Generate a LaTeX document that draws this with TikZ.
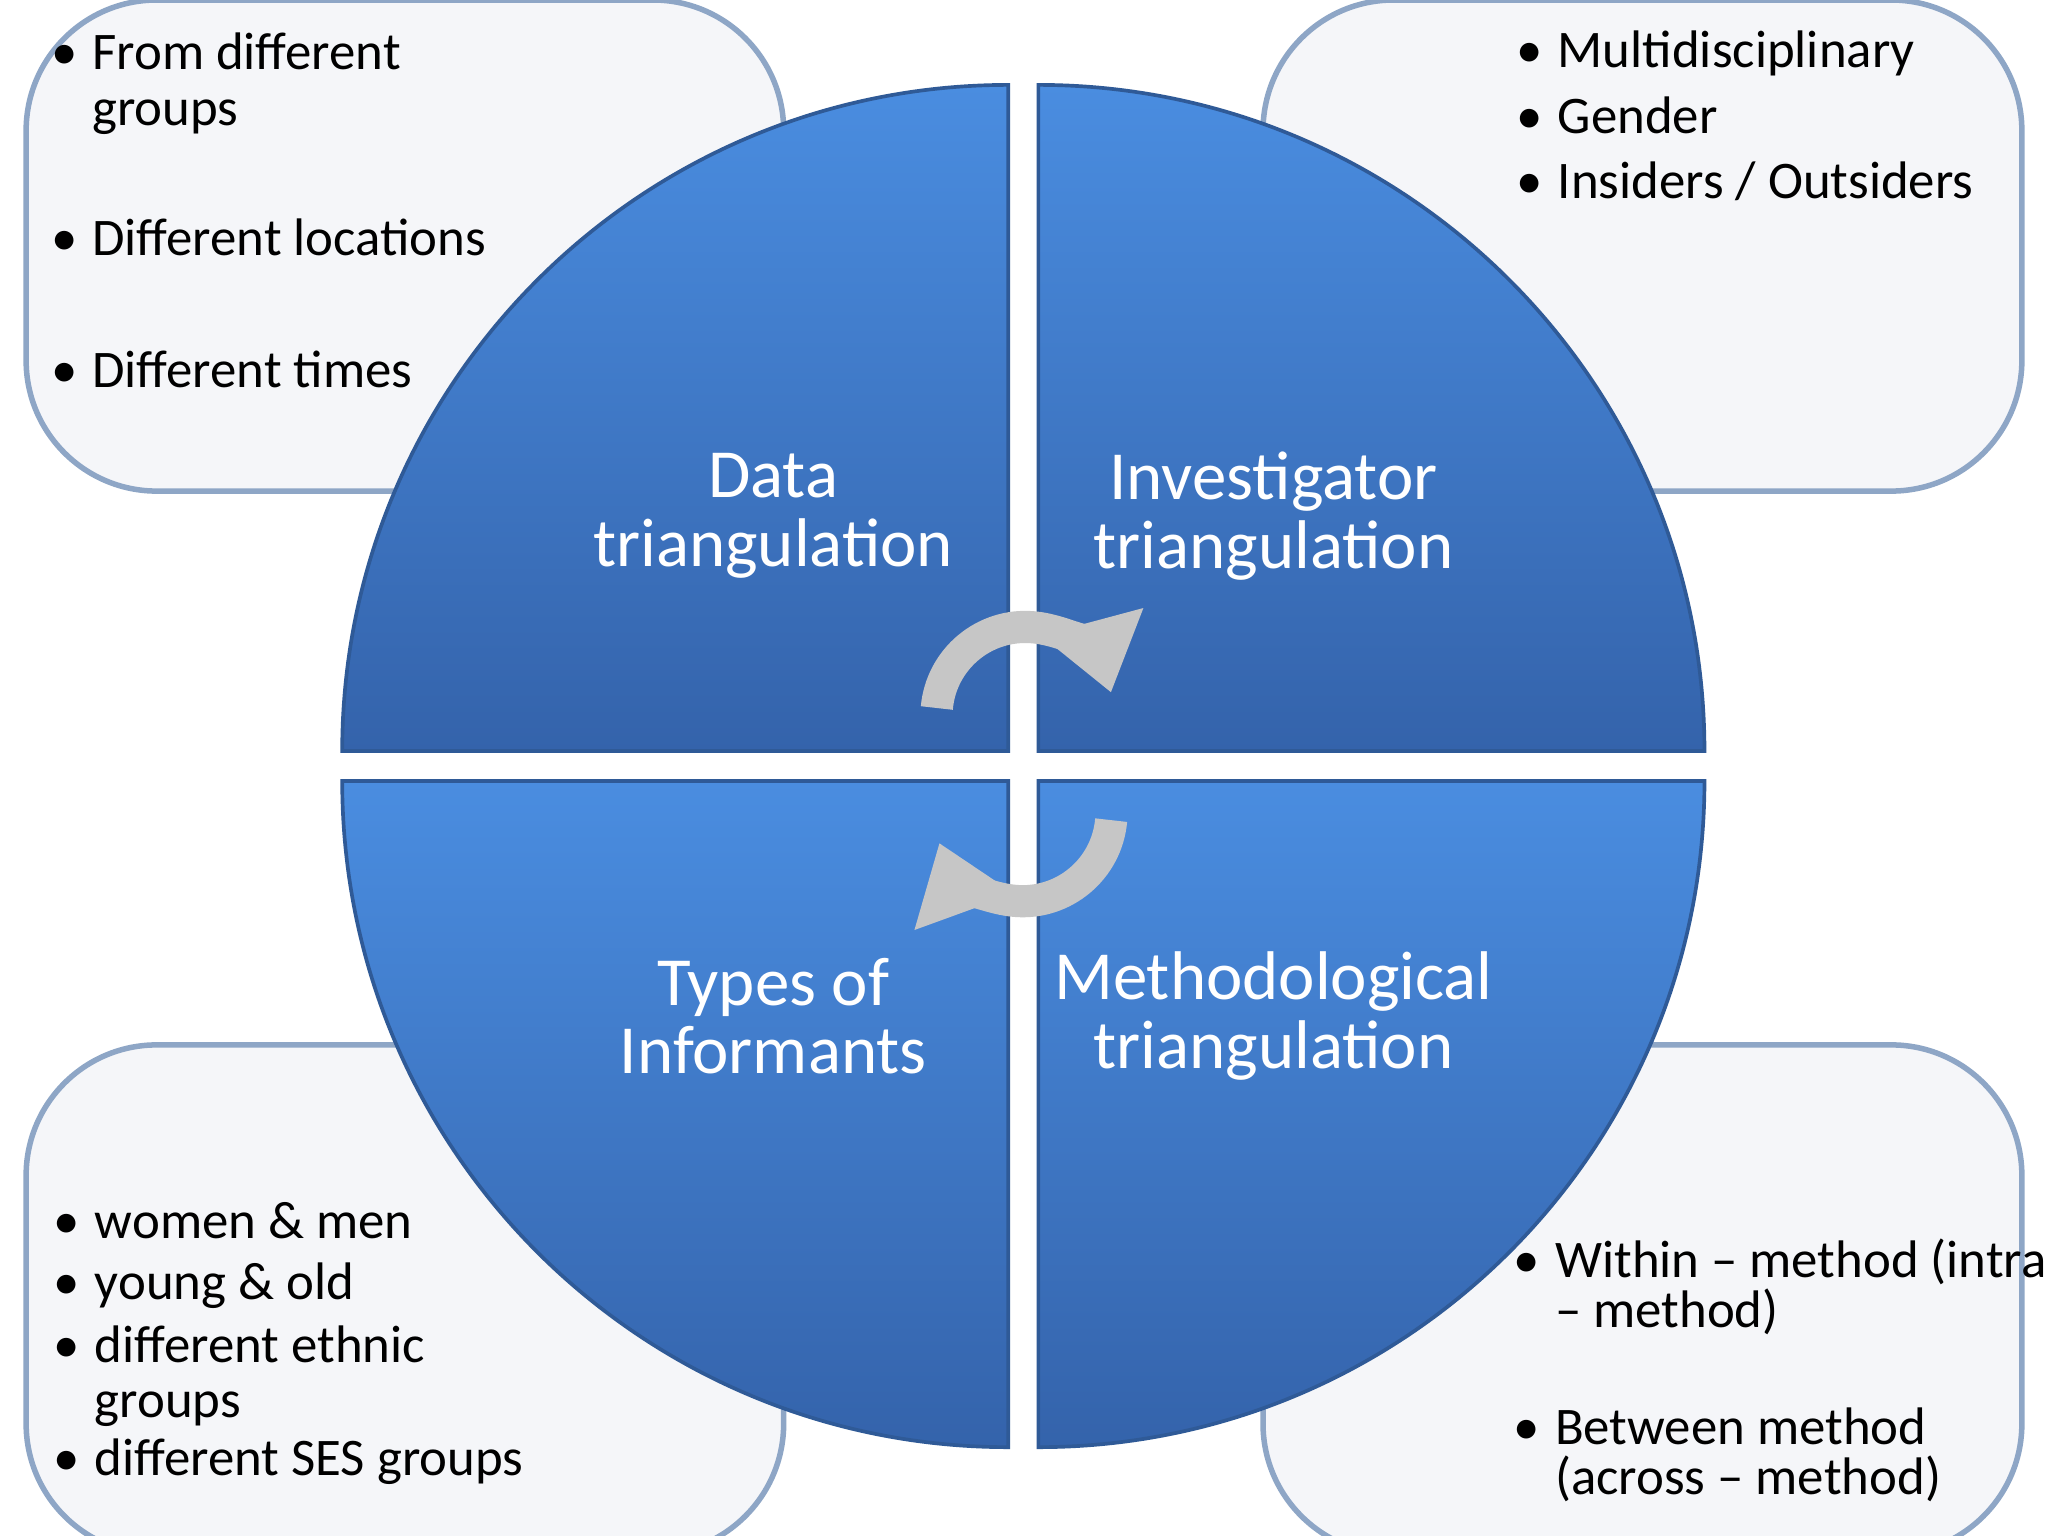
\documentclass[tikz,border=0pt]{standalone}
\usepackage{fontspec}
\setmainfont{Carlito}
\usetikzlibrary{arrows.meta}
\definecolor{boxfill}{HTML}{F5F6F9}
\definecolor{boxline}{HTML}{8EA6C6}
\definecolor{qtop}{HTML}{4A8DE0}
\definecolor{qbot}{HTML}{3463AB}
\definecolor{qline}{HTML}{2F5A97}
\tikzset{
  infobox/.style={draw=boxline, line width=1.2pt, fill=boxfill, rounded corners=1cm},
  quad/.style={draw=qline, line width=0.8pt, top color=qtop, bottom color=qbot},
  item/.style={anchor=base west, inner sep=0pt, font=\fontsize{11.5}{13}\selectfont},
  bul/.style={anchor=base east, inner sep=0pt, font=\fontsize{11.5}{13}\selectfont},
  qlabel/.style={text=white, align=center, font=\fontsize{15}{15}\selectfont},
  cyc/.style={line width=7pt, draw=gray!45, -{Triangle[length=16pt,width=22pt]}}
}
\begin{document}
\begin{tikzpicture}[x=0.01cm,y=0.01cm]
\useasboundingbox (0,0) rectangle (1568,-1176);
\fill[white] (0,0) rectangle (1568,-1176);
% boxes
\draw[infobox] (20,0) rectangle (600,-376);
\draw[infobox] (967,0) rectangle (1548,-376);
\draw[infobox] (20,-800) rectangle (600,-1190);
\draw[infobox] (967,-800) rectangle (1548,-1190);
% quadrants
\path[quad] (262,-575) arc[start angle=180,end angle=90,radius=510] -- (772,-575) -- cycle;
\path[quad] (795,-65) arc[start angle=90,end angle=0,radius=510] -- (795,-575) -- cycle;
\path[quad] (1305,-598) arc[start angle=0,end angle=-90,radius=510] -- (795,-598) -- cycle;
\path[quad] (772,-1108) arc[start angle=-90,end angle=-180,radius=510] -- (772,-598) -- cycle;
% labels
\node[qlabel] (q1) at (592,-395) {Data\\triangulation};
\node[qlabel] (q2) at (975,-395) {Investigator\\triangulation};
\node[qlabel] (q3) at (592,-778) {Types of\\Informants};
\node[qlabel] (q4) at (975,-778) {Methodological\\triangulation};
% cycle arrows
\coordinate (a1) at (785,-548);
\coordinate (a2) at (783,-622);
\draw[cyc] (a1) ++(175:68) arc[start angle=175,end angle=15,radius=68];
\draw[cyc] (a2) ++(-5:68) arc[start angle=-5,end angle=-160,radius=68];
% TL items
\node[bul] at (60,-53) {•}; \node[item] (t1) at (70,-53) {From different};
\node[item] (t2) at (70,-96) {groups};
\node[bul] at (60,-196) {•}; \node[item] (t3) at (70,-196) {Different locations};
\node[bul] at (60,-297) {•}; \node[item] (t4) at (70,-297) {Different times};
% TR items
\node[bul] at (1182,-52) {•}; \node[item] (r1) at (1192,-52) {Multidisciplinary};
\node[bul] at (1182,-102) {•}; \node[item] (r2) at (1192,-102) {Gender};
\node[bul] at (1182,-152) {•}; \node[item] (r3) at (1192,-152) {Insiders / Outsiders};
% BL items
\node[bul] at (62,-948) {•}; \node[item] (b1) at (72,-948) {women \& men};
\node[bul] at (62,-995) {•}; \node[item] (b2) at (72,-995) {young \& old};
\node[bul] at (62,-1043) {•}; \node[item] (b3) at (72,-1043) {different ethnic};
\node[item] (b4) at (72,-1085) {groups};
\node[bul] at (62,-1130) {•}; \node[item] (b5) at (72,-1130) {different SES groups};
% BR items
\node[bul] at (1180,-978) {•}; \node[item] (m1) at (1190,-978) {Within – method (intra};
\node[item] (m2) at (1190,-1016) {– method)};
\node[bul] at (1180,-1106) {•}; \node[item] (m3) at (1190,-1106) {Between method};
\node[item] (m4) at (1190,-1144) {(across – method)};
\end{tikzpicture}
\end{document}
